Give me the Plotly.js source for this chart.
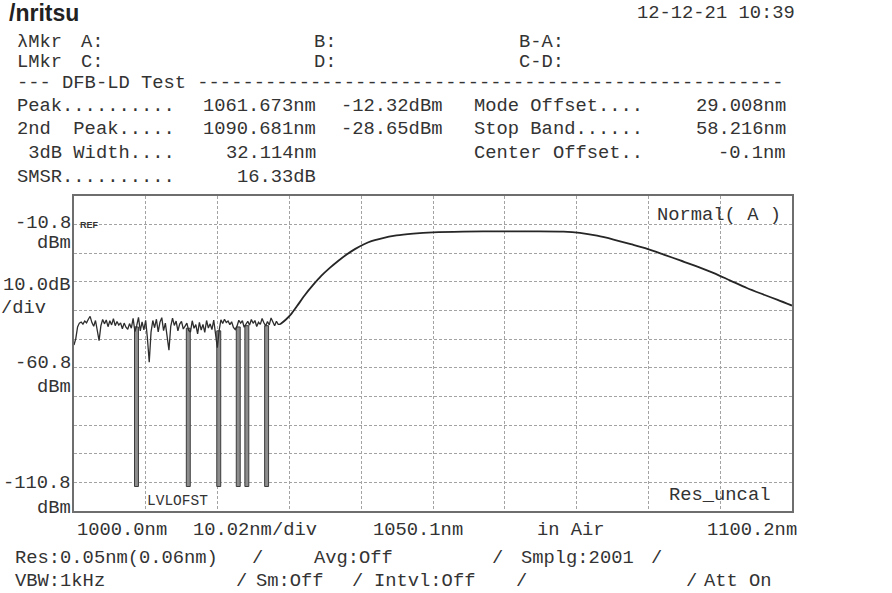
<!DOCTYPE html>
<html>
<head>
<meta charset="utf-8">
<script src="https://cdn.plot.ly/plotly-3.0.1.min.js"></script>
<style>html,body{margin:0;padding:0;background:#fff;}#chart{width:892px;height:593px;}</style>
</head>
<body>
<div id="chart"></div>
<script>
// ---------------- data ----------------
const noiseNm = [1000.00,1000.25,1000.50,1000.75,1001.00,1001.25,1001.50,1001.75,1002.00,1002.25,1002.50,1002.75,1003.00,1003.25,1003.50,1003.75,1004.00,1004.25,1004.50,1004.75,1005.00,1005.25,1005.50,1005.75,1006.00,1006.25,1006.50,1006.75,1007.00,1007.25,1007.50,1007.75,1008.00,1008.25,1008.50,1008.75,1009.00,1009.25,1009.50,1009.75,1010.00,1010.25,1010.50,1010.75,1011.00,1011.25,1011.50,1011.75,1012.00,1012.25,1012.50,1012.75,1013.00,1013.25,1013.50,1013.75,1014.00,1014.25,1014.50,1014.75,1015.00,1015.25,1015.50,1015.75,1016.00,1016.25,1016.50,1016.75,1017.00,1017.25,1017.50,1017.75,1018.00,1018.25,1018.50,1018.75,1019.00,1019.25,1019.50,1019.75,1020.00,1020.25,1020.50,1020.75,1021.00,1021.25,1021.50,1021.75,1022.00,1022.25,1022.50,1022.75,1023.00,1023.25,1023.50,1023.75,1024.00,1024.25,1024.50,1024.75,1025.00,1025.25,1025.50,1025.75,1026.00,1026.25,1026.50,1026.75,1027.00,1027.25,1027.50,1027.75,1028.00,1028.25,1028.50,1028.75];
const noiseDbm = [-57.5,-55.0,-50.5,-49.0,-48.6,-49.4,-48.2,-48.9,-47.5,-46.4,-48.8,-50.2,-48.0,-51.5,-55.8,-50.1,-47.6,-49.3,-47.8,-50.4,-48.1,-49.7,-47.3,-50.0,-48.4,-49.8,-48.9,-51.2,-49.0,-50.6,-51.4,-49.2,-51.0,-47.2,-52.3,-50.0,-46.8,-52.0,-48.5,-51.6,-47.9,-55.0,-64.2,-52.5,-48.0,-50.8,-47.5,-52.4,-48.6,-46.9,-51.9,-49.0,-53.5,-59.5,-50.3,-47.1,-49.9,-48.2,-52.0,-49.4,-48.3,-51.3,-50.2,-49.0,-51.8,-52.5,-48.1,-51.0,-49.6,-53.2,-48.7,-51.7,-49.5,-52.6,-48.0,-50.9,-49.3,-51.5,-47.8,-53.0,-58.5,-52.0,-47.7,-49.2,-47.5,-48.8,-48.2,-49.6,-48.5,-50.7,-51.5,-50.2,-47.9,-49.0,-48.1,-50.6,-49.4,-48.3,-49.8,-47.6,-49.1,-48.0,-50.3,-48.7,-49.5,-47.2,-48.9,-50.1,-48.4,-49.7,-47.0,-48.6,-50.0,-48.3,-49.5,-49.5];

const peakNm  = [1028.75,1029.5,1030.3,1031.1,1032.2,1033.4,1034.5,1035.7,1036.9,1038.05,1039.2,1040.4,1041.5,1042.7,1045.0,1047.35,1050.1,1054.3,1059.9,1064.0,1068.3,1070.6,1073.0,1075.3,1077.7,1080.0,1082.3,1084.6,1087.0,1089.3,1091.6,1093.9,1096.3,1098.2,1100.2];
const peakDbm = [-49.5,-47.8,-45.5,-42.5,-38.2,-34.1,-30.7,-27.6,-24.8,-22.4,-20.3,-18.5,-17.2,-16.3,-15.0,-14.3,-13.8,-13.5,-13.4,-13.4,-13.5,-14.0,-15.1,-16.6,-18.4,-20.2,-22.4,-24.7,-27.1,-29.6,-32.5,-35.4,-38.0,-40.0,-42.2];

const dipNm     = [1008.72, 1015.95, 1020.2, 1022.92, 1024.12, 1026.88];
const dipTopDbm = [-50.5, -51.0, -52.0, -50.5, -50.0, -50.0];
const dipBotDbm = [-112.4, -112.4, -112.4, -112.4, -112.4, -112.4];

const xStartNm = 1000.0, xStopNm = 1100.2, xDivNm = 10.02;
const refDbm = -10.8, bottomLabelDbm = -110.8;

// text content
const logoText = "/nritsu";
const dateText = "12-12-21 10:39";
const ruleText = "--- DFB-LD Test " + "-".repeat(52);
const yLabels = [["-10.8",223],["dBm",243],["10.0dB",285],["-60.8",363],["dBm",387],["-110.8",483],["dBm",508]];
const xLabels = [["1000.0nm",77],["10.02nm/div",193],["1050.1nm",373],["in Air",537],["1100.2nm",707]];

// ---------------- layout helpers ----------------
const L = 74, T = 196, W = 718, H = 315, B = T + H;
const FONT = "Liberation Mono, DejaVu Sans Mono, monospace";
const FS = 18.8, TXT = "#333333";
function lab(text, x, y, anchor, size, extra) {
  const a = {xref:'paper', yref:'paper', x:(x - L)/W, y:(B - y)/H,
    xanchor: anchor || 'left', yanchor:'middle', text: text.replace(/ /g,'\u00a0'),
    showarrow:false, borderpad:0, borderwidth:0,
    font:{family:FONT, size:size || FS, color:TXT}};
  return Object.assign(a, extra || {});
}

const ann = [];
ann.push(lab(logoText, 9, 13, 'left', 23, {font:{family:"Liberation Sans, Arial, sans-serif", size:23, color:'#222', weight:700}}));
ann.push(lab(dateText, 637, 13));
[["λMkr",17,42],["A:",81,42],["B:",314,42],["B-A:",519,42],
 ["LMkr",17,62],["C:",81,62],["D:",314,62],["C-D:",519,62]].forEach(r=>ann.push(lab(r[0],r[1],r[2])));
ann.push(lab(ruleText, 17, 83));
// measurement table
[["Peak..........",17,106,'left'],["1061.673nm",316,106,'right'],["-12.32dBm",341,106,'left'],["Mode Offset....",474,106,'left'],["29.008nm",786,106,'right'],
 ["2nd  Peak.....",17,129,'left'],["1090.681nm",316,129,'right'],["-28.65dBm",341,129,'left'],["Stop Band......",474,129,'left'],["58.216nm",786,129,'right'],
 [" 3dB Width....",17,153,'left'],["32.114nm",316,153,'right'],["Center Offset..",474,153,'left'],["-0.1nm",786,153,'right'],
 ["SMSR..........",17,177,'left'],["16.33dB",316,177,'right']].forEach(r=>ann.push(lab(r[0],r[1],r[2],r[3])));
// y labels
yLabels.forEach(r=>ann.push(lab(r[0],71,r[1],'right')));
ann.push(lab("/div", 46, 308, 'right'));
// in-plot text
ann.push(lab("REF", 80, 225, 'left', 9, {font:{family:"Liberation Sans, Arial, sans-serif", size:9, color:'#333', weight:700}}));
ann.push(lab("Normal( A )", 657, 215));
ann.push(lab("Res_uncal", 669, 495));
ann.push(lab("LVLOFST", 147, 501, 'left', 14.5));
// x labels
xLabels.forEach(r=>ann.push(lab(r[0], r[1], 530)));
// status rows
[["Res:0.05nm(0.06nm)",15],["/",252],["Avg:Off",314],["/",492],["Smplg:2001",521],["/",651]].forEach(r=>ann.push(lab(r[0],r[1],558)));
[["VBW:1kHz",15],["/",236],["Sm:Off",256],["/",352],["Intvl:Off",374],["/",516],["/",686],["Att On",704]].forEach(r=>ann.push(lab(r[0],r[1],581)));

// axes
const divDb = (refDbm - bottomLabelDbm) / 9;
const yTop = refDbm + divDb, yBot = bottomLabelDbm - divDb;
const yGrid = []; for (let k = 0; k <= 9; k++) yGrid.push(refDbm - k*divDb);

const traces = [
  {type:'bar', x:dipNm, base:dipTopDbm, y:dipBotDbm.map((v,i)=>v - dipTopDbm[i]), width:0.55,
   marker:{color:'#8d8d8d', line:{color:'#3c3c3c', width:1}}, hoverinfo:'skip', showlegend:false},
  {type:'scatter', mode:'lines', x:noiseNm, y:noiseDbm, line:{color:'#2e2e2e', width:1.3}, showlegend:false},
  {type:'scatter', mode:'lines', x:peakNm, y:peakDbm, line:{color:'#262626', width:1.8, shape:'spline', smoothing:0.8}, showlegend:false}
];

const layout = {
  width:892, height:593, paper_bgcolor:'#fff', plot_bgcolor:'#fff',
  margin:{l:L, r:892 - L - W, t:T, b:593 - B, pad:0},
  showlegend:false,
  xaxis:{range:[xStartNm, xStopNm], tick0:xStartNm, dtick:xDivNm, showticklabels:false, ticks:'',
         showgrid:true, gridcolor:'#a3a3a3', gridwidth:1, griddash:'3px,2px', zeroline:false,
         showline:true, mirror:true, linecolor:'#6e6e6e', linewidth:2, fixedrange:true},
  yaxis:{range:[yBot, yTop], tickmode:'array', tickvals:yGrid, showticklabels:false, ticks:'',
         showgrid:true, gridcolor:'#a3a3a3', gridwidth:1, griddash:'3px,2px', zeroline:false,
         showline:true, mirror:true, linecolor:'#6e6e6e', linewidth:2, fixedrange:true},
  annotations:ann
};
Plotly.newPlot('chart', traces, layout, {staticPlot:true, displayModeBar:false});
</script>
</body>
</html>
